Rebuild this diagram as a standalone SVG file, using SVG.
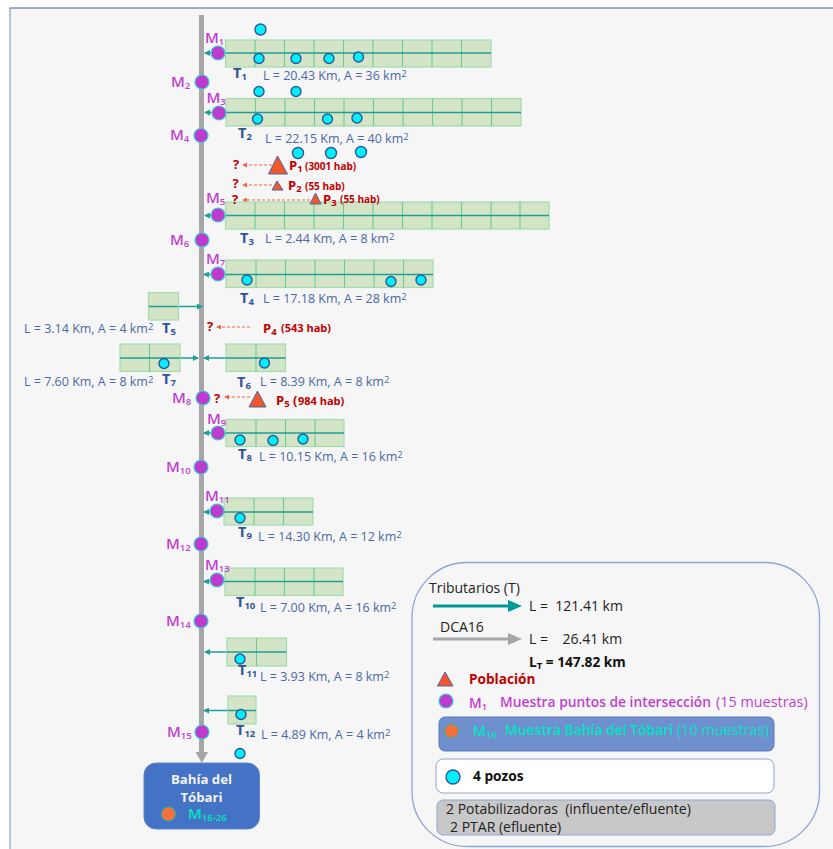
<svg xmlns="http://www.w3.org/2000/svg" width="833" height="849" viewBox="0 0 833 849">
<style>
text{font-family:"Open Sans","Noto Sans","Liberation Sans",sans-serif;font-size:12.5px;fill:#4a69a5}
.g{fill:#d4e4c6;stroke:#a0dcb0;stroke-width:1.2}
.v{stroke:#6ccb92;stroke-width:1.1;fill:none}
.r{stroke:#1f9e96;stroke-width:1.5;fill:none}
.m{fill:#bf3bcf;stroke:#33cfcf;stroke-width:1.2}
.w{fill:#00f0ff;stroke:#2f5597;stroke-width:1.4}
.t{fill:#f4562c;stroke:#4a69a5;stroke-width:1}
.o{fill:#f4703a;stroke:#2fb0a0;stroke-width:1}
.d{stroke:#f4663c;stroke-width:1;stroke-dasharray:3 2;fill:none}
text.ml{font-size:15px;font-weight:600;fill:#c03fd0}
text.tl{font-size:14.5px;font-weight:700;fill:#2f5597}
text.q{font-size:13px;font-weight:700;fill:#c00000}
text.p{font-size:13px;font-weight:700;fill:#c00000}
text.ps{font-size:10px;font-weight:700;fill:#c00000}
text.pl{font-size:11px;font-weight:700;fill:#c00000}
text.k{font-size:14px;fill:#222}
text.kb{font-size:13.7px;font-weight:700;fill:#111}
text.mg{font-size:13.8px;font-weight:600;fill:#c03fd0}
text.cy{font-size:13.9px;font-weight:600;fill:#00e6c0}
text.wh{font-size:13.2px;font-weight:700;fill:#f2f2f2}
.sub{font-size:9.5px}
</style>
<defs>
<marker id="ta" markerWidth="6" markerHeight="6" refX="5" refY="3" orient="auto" markerUnits="userSpaceOnUse"><path d="M0 0L6 3L0 6Z" fill="#1f9e96"/></marker>
<marker id="oa" markerWidth="5" markerHeight="5" refX="4" refY="2.5" orient="auto" markerUnits="userSpaceOnUse"><path d="M0 0L5 2.5L0 5Z" fill="#f4663c"/></marker>
</defs>
<rect width="833" height="849" fill="#fff"/>
<rect x="10" y="8" width="823" height="841" fill="#f6f6f6"/>
<path d="M10 849V8" stroke="#9db3d8" stroke-width="1.5" fill="none"/>
<path d="M9.500 8H833" stroke="#3f5f9a" stroke-width="1.2" fill="none"/>

<g id="connectors">
<path d="M201.500 15V753" stroke="#a6a6a6" stroke-width="5" fill="none"/>
<path d="M195.500 752H208L201.800 763Z" fill="#a6a6a6"/>
<path class="r" marker-end="url(#ta)" d="M491 53H205"/>
<path class="r" marker-end="url(#ta)" d="M521 112.500H205"/>
<path class="r" marker-end="url(#ta)" d="M549 215.500H205"/>
<path class="r" marker-end="url(#ta)" d="M433 274.500H204"/>
<path class="r" marker-end="url(#ta)" d="M149 306.500H202"/>
<path class="r" marker-end="url(#ta)" d="M120 358H198"/>
<path class="r" marker-end="url(#ta)" d="M285.500 358H204"/>
<path class="r" marker-end="url(#ta)" d="M344 433H204"/>
<path class="r" marker-end="url(#ta)" d="M313 512H204"/>
<path class="r" marker-end="url(#ta)" d="M343 581.500H204"/>
<path class="r" marker-end="url(#ta)" d="M286.500 652H205"/>
<path class="r" marker-end="url(#ta)" d="M256 710.500H204"/>
<path class="d" marker-end="url(#oa)" d="M272 165H243"/>
<path class="d" marker-end="url(#oa)" d="M272 185H243"/>
<path class="d" marker-end="url(#oa)" d="M310 200H243"/>
<path class="d" marker-end="url(#oa)" d="M250 327H217"/>
<path class="d" marker-end="url(#oa)" d="M250 397H225"/>
</g>

<g id="T1"><rect class="g" x="225.500" y="40" width="265.500" height="27"/><path class="v" d="M255 40v27M284.500 40v27M314 40v27M343.500 40v27M373 40v27M402.500 40v27M432 40v27M461.500 40v27"/><path class="r" d="M226 53H491"/>
<circle class="w" cx="260.500" cy="29.500" r="5.500"/><circle class="w" cx="259" cy="58.500" r="5"/><circle class="w" cx="296" cy="58.500" r="5"/><circle class="w" cx="329" cy="58.500" r="5"/><circle class="w" cx="358.500" cy="57" r="5"/>
<text class="tl" x="233" y="78">T<tspan class="sub" dy="2">1</tspan></text><text x="263" y="80">L = 20.43 Km, A = 36 km<tspan class="sub" dy="-3">2</tspan></text></g>
<g id="T2"><rect class="g" x="226" y="98.500" width="295" height="27.500"/><path class="v" d="M255.500 98.500v27.500M285 98.500v27.500M314.500 98.500v27.500M344 98.500v27.500M373.500 98.500v27.500M403 98.500v27.500M432.500 98.500v27.500M462 98.500v27.500M491.500 98.500v27.500"/><path class="r" d="M226 112.500H521"/>
<circle class="w" cx="259" cy="91.500" r="5"/><circle class="w" cx="296" cy="91.500" r="5"/><circle class="w" cx="257.500" cy="119" r="5"/><circle class="w" cx="327.500" cy="119" r="5"/><circle class="w" cx="357" cy="118" r="5"/>
<text class="tl" x="238" y="138">T<tspan class="sub" dy="2">2</tspan></text><text x="265" y="143">L = 22.15 Km, A = 40 km<tspan class="sub" dy="-3">2</tspan></text></g>
<g id="T3"><rect class="g" x="225.500" y="202" width="323.500" height="27"/><path class="v" d="M255 202v27M284.500 202v27M314 202v27M343.500 202v27M373 202v27M402.500 202v27M432 202v27M461.500 202v27M491 202v27M520 202v27"/><path class="r" d="M226 215.500H549"/>
<circle class="w" cx="298" cy="153" r="5.500"/><circle class="w" cx="331" cy="153" r="5.500"/><circle class="w" cx="361" cy="152" r="5.500"/>
<text class="tl" x="240" y="243">T<tspan class="sub" dy="2">3</tspan></text><text x="265" y="243">L = 2.44 Km, A = 8 km<tspan class="sub" dy="-3">2</tspan></text></g>
<g id="T4"><rect class="g" x="226" y="260" width="207" height="27.500"/><path class="v" d="M256 260v27.500M285.500 260v27.500M315 260v27.500M344.500 260v27.500M374 260v27.500M403.500 260v27.500"/><path class="r" d="M226 274.500H433"/>
<circle class="w" cx="247" cy="280" r="5"/><circle class="w" cx="391" cy="281.500" r="5"/><circle class="w" cx="421" cy="280" r="5"/>
<text class="tl" x="240" y="303">T<tspan class="sub" dy="2">4</tspan></text><text x="263" y="303">L = 17.18 Km, A = 28 km<tspan class="sub" dy="-3">2</tspan></text></g>
<g id="T5"><rect class="g" x="148.500" y="292.500" width="30" height="27.500"/><path class="r" d="M149 306.500H178"/>
<text x="24" y="333">L = 3.14 Km, A = 4 km<tspan class="sub" dy="-3">2</tspan></text><text class="tl" x="162" y="333">T<tspan class="sub" dy="2">5</tspan></text></g>
<g id="T6"><rect class="g" x="226" y="344" width="59.500" height="27.500"/><path class="v" d="M256 344v27.500"/><path class="r" d="M226 358H285.500"/>
<circle class="w" cx="264.500" cy="363" r="5"/>
<text class="tl" x="237" y="387">T<tspan class="sub" dy="2">6</tspan></text><text x="260" y="386">L = 8.39 Km, A = 8 km<tspan class="sub" dy="-3">2</tspan></text></g>
<g id="T7"><rect class="g" x="120" y="344" width="60" height="27.500"/><path class="v" d="M149.500 344v27.500"/><path class="r" d="M120 358H180"/>
<circle class="w" cx="164" cy="363.500" r="5"/>
<text x="24" y="386">L = 7.60 Km, A = 8 km<tspan class="sub" dy="-3">2</tspan></text><text class="tl" x="162" y="384">T<tspan class="sub" dy="2">7</tspan></text></g>
<g id="T8"><rect class="g" x="226" y="419.500" width="118" height="27"/><path class="v" d="M256 419.500v27M285.500 419.500v27M315 419.500v27"/><path class="r" d="M226 433H344"/>
<circle class="w" cx="240" cy="440" r="5"/><circle class="w" cx="273" cy="440.500" r="5"/><circle class="w" cx="303" cy="439" r="5"/>
<text class="tl" x="238" y="459">T<tspan class="sub" dy="2">8</tspan></text><text x="259" y="461">L = 10.15 Km, A = 16 km<tspan class="sub" dy="-3">2</tspan></text></g>
<g id="T9"><rect class="g" x="224" y="498" width="89" height="27"/><path class="v" d="M254 498v27M283.500 498v27"/><path class="r" d="M224 512H313"/>
<circle class="w" cx="240" cy="518" r="5"/>
<text class="tl" x="238" y="537">T<tspan class="sub" dy="2">9</tspan></text><text x="258" y="541">L = 14.30 Km, A = 12 km<tspan class="sub" dy="-3">2</tspan></text></g>
<g id="T10"><rect class="g" x="225" y="568" width="118" height="27.500"/><path class="v" d="M255 568v27.500M284.500 568v27.500M314 568v27.500"/><path class="r" d="M225 581.500H343"/>
<text class="tl" x="236" y="607">T<tspan class="sub" dy="2">10</tspan></text><text x="260" y="612">L = 7.00 Km, A = 16 km<tspan class="sub" dy="-3">2</tspan></text></g>
<g id="T11"><rect class="g" x="227" y="638" width="59.500" height="28"/><path class="v" d="M256.500 638v28"/><path class="r" d="M227 652H286.500"/>
<circle class="w" cx="240" cy="659" r="5"/>
<text class="tl" x="238" y="675">T<tspan class="sub" dy="2">11</tspan></text><text x="260" y="681">L = 3.93 Km, A = 8 km<tspan class="sub" dy="-3">2</tspan></text></g>
<g id="T12"><rect class="g" x="228" y="696" width="28" height="28"/><path class="r" d="M228 710.500H256"/>
<circle class="w" cx="241" cy="714.500" r="5"/><circle class="w" cx="240" cy="753.500" r="5"/>
<text class="tl" x="236" y="735">T<tspan class="sub" dy="2">12</tspan></text><text x="261" y="739">L = 4.89 Km, A = 4 km<tspan class="sub" dy="-3">2</tspan></text></g>

<g id="M1"><circle class="m" cx="218" cy="53" r="7"/><text class="ml" x="205" y="43">M<tspan class="sub" dy="2">1</tspan></text></g>
<g id="M2"><circle class="m" cx="202" cy="82" r="7"/><text class="ml" x="171" y="87">M<tspan class="sub" dy="2">2</tspan></text></g>
<g id="M3"><circle class="m" cx="219" cy="113" r="7"/><text class="ml" x="206.500" y="103">M<tspan class="sub" dy="2">3</tspan></text></g>
<g id="M4"><circle class="m" cx="201" cy="135.500" r="7"/><text class="ml" x="170" y="140">M<tspan class="sub" dy="2">4</tspan></text></g>
<g id="M5"><circle class="m" cx="218" cy="215" r="7"/><text class="ml" x="206" y="203">M<tspan class="sub" dy="2">5</tspan></text></g>
<g id="M6"><circle class="m" cx="202" cy="240" r="7"/><text class="ml" x="170" y="245">M<tspan class="sub" dy="2">6</tspan></text></g>
<g id="M7"><circle class="m" cx="218" cy="274" r="7"/><text class="ml" x="206" y="264">M<tspan class="sub" dy="2">7</tspan></text></g>
<g id="M8"><circle class="m" cx="203" cy="398" r="7"/><text class="ml" x="172" y="403">M<tspan class="sub" dy="2">8</tspan></text></g>
<g id="M9"><circle class="m" cx="218" cy="433" r="7"/><text class="ml" x="207" y="424">M<tspan class="sub" dy="2">9</tspan></text></g>
<g id="M10"><circle class="m" cx="201" cy="467" r="7"/><text class="ml" x="166" y="472">M<tspan class="sub" dy="2">10</tspan></text></g>
<g id="M11"><circle class="m" cx="217" cy="511" r="7"/><text class="ml" x="205" y="501">M<tspan class="sub" dy="2">11</tspan></text></g>
<g id="M12"><circle class="m" cx="201" cy="544" r="7"/><text class="ml" x="166" y="549">M<tspan class="sub" dy="2">12</tspan></text></g>
<g id="M13"><circle class="m" cx="217" cy="580" r="7"/><text class="ml" x="205" y="570">M<tspan class="sub" dy="2">13</tspan></text></g>
<g id="M14"><circle class="m" cx="201" cy="621" r="7"/><text class="ml" x="166" y="626">M<tspan class="sub" dy="2">14</tspan></text></g>
<g id="M15"><circle class="m" cx="202" cy="732" r="7"/><text class="ml" x="167" y="737">M<tspan class="sub" dy="2">15</tspan></text></g>

<g id="P1"><path class="t" d="M277.500 156L268.500 174H287.500Z"/><text class="q" x="233" y="169">?</text><text class="p" x="289" y="170">P<tspan class="sub" dy="2">1</tspan></text><text class="ps" x="305" y="170">(3001 hab)</text></g>
<g id="P2"><path class="t" d="M277 181L272 190H283Z"/><text class="q" x="232.500" y="188">?</text><text class="p" x="288" y="190">P<tspan class="sub" dy="2">2</tspan></text><text class="ps" x="305" y="190">(55 hab)</text></g>
<g id="P3"><path class="t" d="M315.500 193L310 204H321Z"/><text class="q" x="232" y="204">?</text><text class="p" x="323" y="204">P<tspan class="sub" dy="2">3</tspan></text><text class="ps" x="340" y="203">(55 hab)</text></g>
<g id="P4"><text class="q" x="207" y="331">?</text><text class="p" x="263" y="333">P<tspan class="sub" dy="2">4</tspan></text><text class="pl" x="281" y="332">(543 hab)</text></g>
<g id="P5"><path class="t" d="M257.500 391L249 407H266Z"/><text class="q" x="214" y="403">?</text><text class="p" x="276" y="405">P<tspan class="sub" dy="2">5</tspan></text><text class="p" x="293" y="405">(</text><text class="pl" x="298" y="405">984 hab)</text></g>

<g id="bahia"><rect x="144" y="763" width="115.500" height="66" rx="12" fill="#4472c4" stroke="#5b84cc"/>
<text class="wh" x="201.500" y="784" text-anchor="middle">Bahía del</text><text class="wh" x="201.500" y="802" text-anchor="middle">Tóbari</text>
<circle class="o" cx="168.500" cy="814" r="7"/><text class="cy" style="font-size:15px" x="188" y="819">M<tspan class="sub" dy="2">16-26</tspan></text></g>

<g id="legend"><rect x="412" y="562.500" width="407.500" height="284" rx="55" fill="#f6f6f6" stroke="#8da6d3" stroke-width="1.3"/>
<text class="k" x="429" y="593">Tributarios (T)</text>
<path d="M433 606H510" stroke="#009a96" stroke-width="3" fill="none"/><path d="M508 600L522 606L508 612Z" fill="#009a96"/>
<text class="k" x="529" y="611" xml:space="preserve">L =  121.41 km</text>
<text class="k" x="440" y="632">DCA16</text>
<path d="M433 639H510" stroke="#a6a6a6" stroke-width="3" fill="none"/><path d="M508 633L522 639L508 645Z" fill="#a6a6a6"/>
<text class="k" x="529" y="644" xml:space="preserve">L =    26.41 km</text>
<text class="kb" x="529" y="667">L<tspan class="sub" dy="2">T</tspan><tspan dy="-2"> = 147.82 km</tspan></text>
<path class="t" d="M445 672L437.500 686H453Z"/><text class="p" style="font-size:13.600px" x="469" y="684">Población</text>
<circle class="m" cx="446" cy="701" r="7"/>
<text class="mg" x="469" y="708">M<tspan class="sub" dy="2">1</tspan></text><text class="mg" x="500" y="707">Muestra puntos de intersección</text><text class="mg" style="font-weight:400;font-size:14.400px" x="716" y="707">(15 muestras)</text>
<rect x="439" y="717" width="335" height="34" rx="6" fill="#6f8fcf" stroke="#5878b8"/>
<circle class="o" cx="451.500" cy="731" r="7"/>
<text class="cy" x="473" y="736">M<tspan class="sub" dy="2">16</tspan></text><text class="cy" x="505" y="735">Muestra Bahía del Tóbari</text><text class="cy" style="font-weight:400;font-size:14.400px" x="677" y="735">(10 muestras)</text>
<rect x="436" y="759" width="338" height="34" rx="7" fill="#fff" stroke="#8da6d3"/>
<circle class="w" cx="453" cy="777" r="7"/><text class="kb" x="473" y="781">4 pozos</text>
<rect x="437" y="800" width="338" height="35" rx="6" fill="#c8c8c8" stroke="#8da6d3"/>
<text class="k" x="446" y="814" xml:space="preserve">2 Potabilizadoras  (influente/efluente)</text>
<text class="k" x="450" y="832">2 PTAR (efluente)</text></g>
</svg>
